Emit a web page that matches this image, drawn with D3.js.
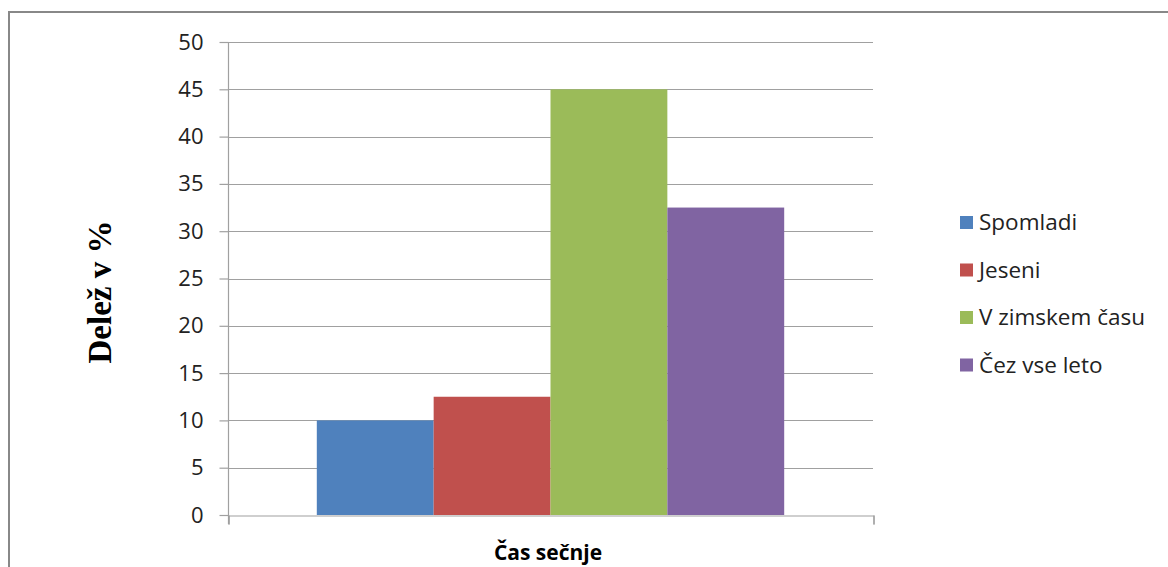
<!DOCTYPE html>
<html><head><meta charset="utf-8">
<script src="https://cdn.jsdelivr.net/npm/d3@7"></script>
<style>body{margin:0;background:#fff;}svg{display:block;}</style>
</head><body>
<svg id="c" width="1168" height="567"></svg>
<script>
const categories = ["Spomladi", "Jeseni", "V zimskem času", "Čez vse leto"];
const values = [10, 12.5, 45, 32.5];
const colors = ["#4f81bd", "#c0504d", "#9bbb59", "#8064a2"];
const yTicks = [0, 5, 10, 15, 20, 25, 30, 35, 40, 45, 50];
const xTitle = "Čas sečnje";
const yTitle = "Delež v %";

const svg = d3.select("#c");
const L = 228, R = 873, T = 42, B = 515;

// outer border
svg.append("rect").attr("x", 9).attr("y", 12).attr("width", 1200).attr("height", 600)
  .attr("fill", "#fff").attr("stroke", "#888").attr("stroke-width", 2);

const y = d3.scaleLinear().domain([0, 50]).range([B, T]);
const x = d3.scaleBand().domain(["g"]).range([L, R]).paddingInner(0).paddingOuter(0);
const groupW = x.bandwidth() / 1.38;
const xs = d3.scaleBand().domain(categories)
  .range([x("g") + (x.bandwidth() - groupW) / 2, x("g") + (x.bandwidth() + groupW) / 2]);

// gridlines
svg.append("g").selectAll("line").data(yTicks.slice(1)).join("line")
  .attr("x1", L).attr("x2", R).attr("y1", d => Math.round(y(d)) + 0.5).attr("y2", d => Math.round(y(d)) + 0.5)
  .attr("stroke", "#a0a0a0").attr("stroke-width", 1.2);

// bars
svg.append("g").selectAll("rect").data(categories).join("rect")
  .attr("x", d => xs(d)).attr("width", xs.bandwidth())
  .attr("y", (d, i) => y(values[i])).attr("height", (d, i) => B - y(values[i]))
  .attr("fill", (d, i) => colors[i]);

// y axis
const yAxis = d3.axisLeft(y).tickValues(yTicks).tickSize(9).tickPadding(16);
const gy = svg.append("g").attr("transform", `translate(${L + 0.5},0)`).call(yAxis);
gy.select(".domain").attr("stroke", "#a0a0a0").attr("stroke-width", 1.2).attr("d", `M0,${T}V${B + 9}`);
gy.selectAll(".tick line").attr("stroke", "#a0a0a0").attr("stroke-width", 1.2);
gy.selectAll(".tick text").attr("font-family", "'Open Sans', sans-serif").attr("font-size", 22).attr("fill", "#222");

// x axis baseline with end ticks
const xAxis = d3.axisBottom(d3.scaleLinear().domain([0, 1]).range([L, R])).tickValues([0, 1]).tickSize(9).tickFormat("");
const gx = svg.append("g").attr("transform", `translate(0.5,${B + 0.5})`).call(xAxis);
gx.select(".domain").attr("stroke", "#a0a0a0").attr("stroke-width", 1.2);
gx.selectAll(".tick line").attr("stroke", "#a0a0a0").attr("stroke-width", 1.2);

// titles
svg.append("text").attr("x", 548).attr("y", 560).attr("text-anchor", "middle")
  .attr("font-family", "'Open Sans', sans-serif").attr("font-weight", "bold").attr("font-size", 21)
  .attr("fill", "#000").text(xTitle);
svg.append("text").attr("transform", "translate(111,292) rotate(-90)").attr("text-anchor", "middle")
  .attr("font-family", "'Liberation Serif', serif").attr("font-weight", "bold").attr("font-size", 33)
  .attr("fill", "#000").text(yTitle);

// legend
const lg = svg.append("g").selectAll("g").data(categories).join("g")
  .attr("transform", (d, i) => `translate(960,${222.5 + i * 47.5})`);
lg.append("rect").attr("x", 0).attr("y", -6.5).attr("width", 13).attr("height", 13).attr("fill", (d, i) => colors[i]);
lg.append("text").attr("x", 19).attr("y", 0).attr("dy", "0.35em")
  .attr("font-family", "'Open Sans', sans-serif").attr("font-size", 22.5).attr("fill", "#222").text(d => d);
</script>
</body></html>
